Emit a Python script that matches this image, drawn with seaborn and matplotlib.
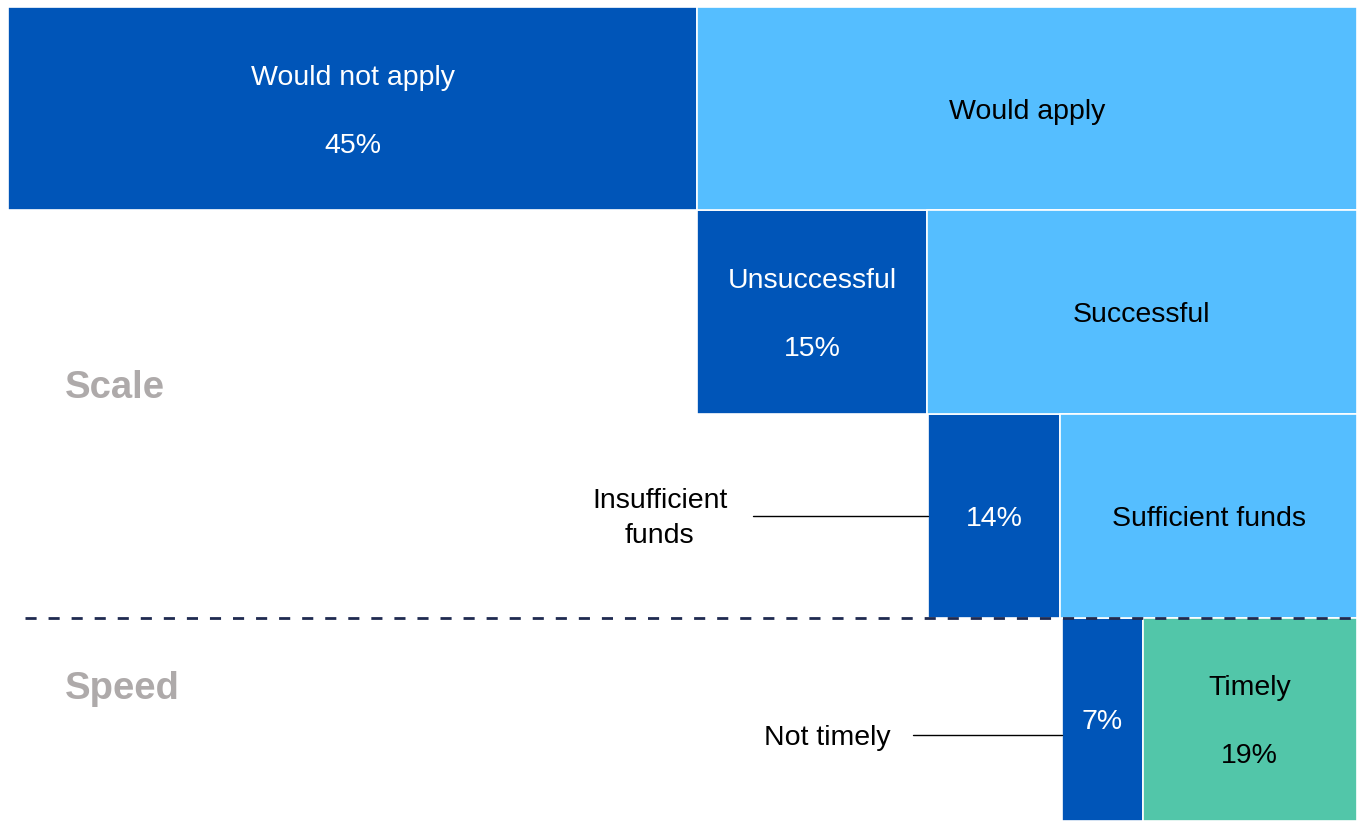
import pandas as pd
import seaborn as sns
import matplotlib.pyplot as plt

# --- Data (segment widths, in % of full bar width) ---
stages = ["Apply", "Success", "Funds", "Timeliness"]
neg_labels = ["Would not apply", "Unsuccessful", "Insufficient\nfunds", "Not timely"]
neg_pct = ["45%", "15%", "14%", "7%"]
neg_start = [0.0, 51.1, 68.2, 78.1]
neg_width = [51.1, 17.0, 9.8, 6.0]
pos_labels = ["Would apply", "Successful", "Sufficient funds", "Timely"]
pos_pct = ["", "", "", "19%"]
pos_colors = ["#55BEFF", "#55BEFF", "#55BEFF", "#52C6A9"]
DARK = "#0055B8"

df = pd.DataFrame({
    "stage": stages,
    "neg_start": neg_start,
    "neg_width": neg_width,
})
df["pos_start"] = df["neg_start"] + df["neg_width"]
df["pos_width"] = 100 - df["pos_start"]
df["row"] = range(len(df))

sns.set_theme(style="white")
plt.rcParams["font.family"] = ["Liberation Sans", "DejaVu Sans"]

fig = plt.figure(figsize=(13.62, 8.21), dpi=100)
ax = fig.add_axes([8 / 1362, 0, 1349 / 1362, 814 / 821])

ax.barh(df["row"], df["neg_width"], left=df["neg_start"], height=1.0,
        color=DARK, edgecolor="white", linewidth=1.2)
ax.barh(df["row"], df["pos_width"], left=df["pos_start"], height=1.0,
        color=pos_colors, edgecolor="white", linewidth=1.2)

ax.set_xlim(0, 100)
ax.set_ylim(3.5, -0.5)
ax.set_axis_off()

FS = 20.5
off = 0.167
dy = 0.015  # small nudge so text sits like in the original
for i, r in df.iterrows():
    nc = r["neg_start"] + r["neg_width"] / 2
    pc = r["pos_start"] + r["pos_width"] / 2
    y = r["row"] + dy
    # dark segment
    if i < 2:
        ax.text(nc, y - off, neg_labels[i], color="white", fontsize=FS, ha="center", va="center")
        ax.text(nc, y + off, neg_pct[i], color="white", fontsize=FS, ha="center", va="center")
    else:
        ax.text(nc, y, neg_pct[i], color="white", fontsize=FS, ha="center", va="center")
    # light segment
    if pos_pct[i]:
        ax.text(pc, y - off, pos_labels[i], color="black", fontsize=FS, ha="center", va="center")
        ax.text(pc, y + off, pos_pct[i], color="black", fontsize=FS, ha="center", va="center")
    else:
        ax.text(pc, y, pos_labels[i], color="black", fontsize=FS, ha="center", va="center")

# call-out labels for the two narrow segments
ax.text(48.3, 2.0 + dy, neg_labels[2], color="black", fontsize=FS, ha="center", va="center",
        linespacing=1.45)
ax.plot([55.2, df.loc[2, "neg_start"]], [2.0, 2.0], color="black", lw=1)
ax.text(60.7, 3.077 + dy, neg_labels[3], color="black", fontsize=FS, ha="center", va="center")
ax.plot([67.1, df.loc[3, "neg_start"]], [3.077, 3.077], color="black", lw=1)

# section divider and section names
ax.plot([1.26, 100], [2.5, 2.5], color="#1F2A50", lw=2, linestyle=(0, (4, 4.3)), zorder=5)
ax.text(4.2, 1.37, "Scale", fontsize=27.5, fontweight="bold", color="#AEAAAA", ha="left", va="center")
ax.text(4.2, 2.85, "Speed", fontsize=27.5, fontweight="bold", color="#AEAAAA", ha="left", va="center")

fig.savefig("out.png", dpi=100)
